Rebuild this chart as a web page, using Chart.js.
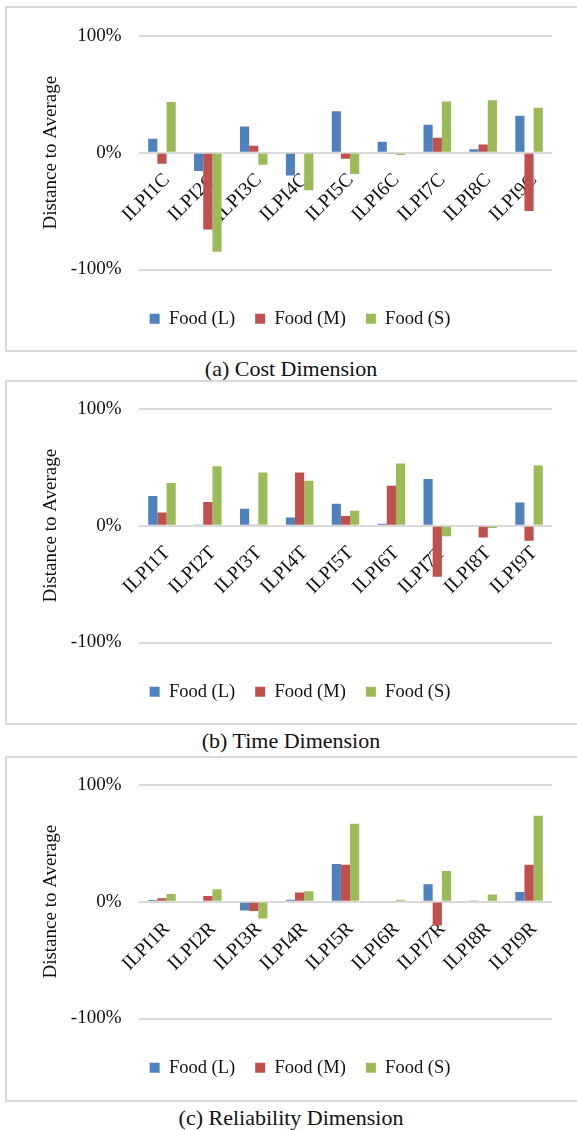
<!DOCTYPE html>
<html>
<head>
<meta charset="utf-8">
<script src="https://cdn.jsdelivr.net/npm/chart.js@4/dist/chart.umd.min.js"></script>
<style>
	body { margin:0; width:577px; height:1130px; background:#fff; position:relative; overflow:hidden; font-family:'Liberation Serif', serif; }
	.box { position:absolute; left:5px; width:600px; border:2px solid #d9d9d9; box-sizing:border-box; }
	canvas { position:absolute; left:0; }
	.cap { position:absolute; left:0; width:582px; text-align:center; font-size:22px; line-height:26px; color:#111; }
</style>
</head>
<body>
<script>
// values, in % distance to average
const costCats = ['ILPI1C', 'ILPI2C', 'ILPI3C', 'ILPI4C', 'ILPI5C', 'ILPI6C', 'ILPI7C', 'ILPI8C', 'ILPI9C']
const costL = [12, -15.7, 22.5, -19.4, 35.6, 9.4, 23.9, 3.1, 31.6]
const costM = [-9.4, -65.8, 6, 0, -5.1, -1, 12.8, 7.1, -49.9]
const costS = [43.4, -84.9, -10.3, -32.2, -18.2, -2, 43.9, 45, 38.5]

const timeCats = ['ILPI1T', 'ILPI2T', 'ILPI3T', 'ILPI4T', 'ILPI5T', 'ILPI6T', 'ILPI7T', 'ILPI8T', 'ILPI9T']
const timeL = [25.4, 1.1, 14.6, 7, 18.9, 1.7, 40, 0, 20]
const timeM = [11.4, 20.3, 1, 45.7, 8.3, 34.3, -43.7, -10, -12.9]
const timeS = [36.6, 51, 45.7, 38.6, 12.9, 53.4, -8.9, -2, 51.7]

const relCats = ['ILPI1R', 'ILPI2R', 'ILPI3R', 'ILPI4R', 'ILPI5R', 'ILPI6R', 'ILPI7R', 'ILPI8R', 'ILPI9R']
const relL = [1.4, 0, -7.4, 1.7, 32.3, 0, 14.9, 1.1, 8.3]
const relM = [2.9, 4.9, -8, 8, 31.7, 0, -20.3, 0, 31.7]
const relS = [6.6, 10.6, -14.3, 9.1, 66.9, 1.7, 26.3, 6.3, 73.7]

const seriesNames = ['Food (L)', 'Food (M)', 'Food (S)']
const seriesColors = ['#4F81BD', '#C0504D', '#9BBB59']
const yTicks = [-100, 0, 100]

const F = "'Liberation Serif', serif"

const el = o => {
	const a = document.createElement(o.a)
	if (o.c) a.textContent = o.c
	if (o.d) Object.entries(o.d).forEach(([k, v]) => a.setAttribute(k, v))
	if (o.s) Object.assign(a.style, o.s)
	;(o.b || document.body).appendChild(a)
	return a
}

const panel = (cats, L, M, S, caption, plotTop, boxTop, boxBottom, capY) => {
	el({a:'div', d:{class:'box'}, s:{top:boxTop + 'px', height:(boxBottom - boxTop) + 'px'}})
	el({a:'div', c:caption, d:{class:'cap'}, s:{top:(capY - 13) + 'px'}})

	const cv = el({a:'canvas', d:{width:577, height:332}, s:{top:(plotTop - 30) + 'px'}})

	return new Chart(cv, {
		type: 'bar',
		data: {
			labels: cats,
			datasets: [L, M, S].map((d, i) => ({
				label: seriesNames[i],
				data: d,
				backgroundColor: seriesColors[i],
			})),
		},
		options: {
			responsive: false,
			animation: false,
			devicePixelRatio: 1,
			categoryPercentage: 0.6,
			barPercentage: 1,
			layout: { padding: { top: 30, right: 25, left: 0, bottom: 0 } },
			plugins: {
				tooltip: { enabled: false },
				legend: {
					position: 'bottom',
					labels: { boxWidth: 10, boxHeight: 10, padding: 20, color: '#111', font: { family: F, size: 18.5 } },
					// empty title used as a spacer above the legend row
					title: { display: true, text: ' ', font: { size: 1 }, padding: { top: 18.8, bottom: 0 } },
				},
			},
			scales: {
				x: {
					position: { y: 0 },
					grid: { display: false },
					border: { display: false },
					ticks: { autoSkip: false, minRotation: 45, maxRotation: 45, padding: 8, labelOffset: 5, color: '#111', font: { family: F, size: 19.5 } },
				},
				y: {
					min: yTicks[0],
					max: yTicks[yTicks.length - 1],
					afterFit: s => { s.width = 139 },
					afterBuildTicks: s => { s.ticks = yTicks.map(v => ({ value: v })) },
					border: { display: false },
					grid: { color: '#d9d9d9', lineWidth: 2, drawTicks: false },
					ticks: { padding: 17.5, color: '#111', font: { family: F, size: 19 }, callback: v => v + '%' },
					title: { display: true, text: 'Distance to Average', color: '#111', font: { family: F, size: 19 }, padding: { top: 39.6, bottom: 0 } },
				},
			},
		},
		plugins: [{
			id: 'legendShift',
			afterLayout: c => { c.legend.left += 24; c.legend.right += 24 },
		}],
	})
}

panel(costCats, costL, costM, costS, '(a) Cost Dimension', 35.7, 6, 352, 368.7)
panel(timeCats, timeL, timeM, timeS, '(b) Time Dimension', 409, 380, 725, 741)
panel(relCats, relL, relM, relS, '(c) Reliability Dimension', 785, 755.5, 1101.7, 1118)
</script>
</body>
</html>
